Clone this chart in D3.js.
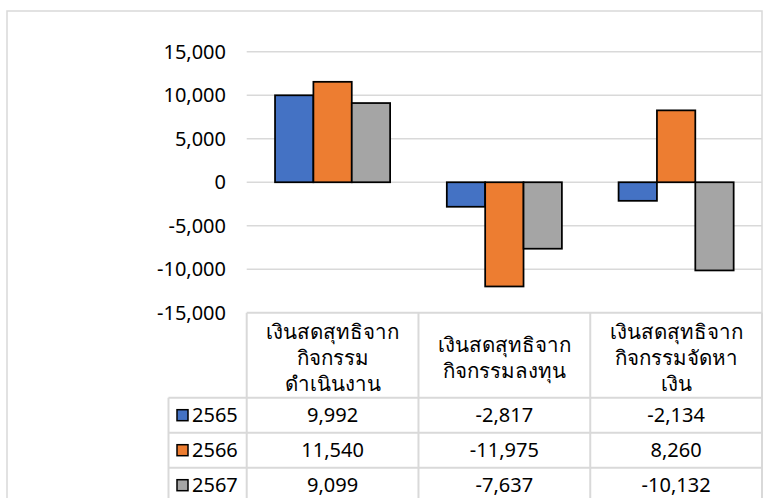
<!DOCTYPE html>
<html>
<head>
<meta charset="utf-8">
<script src="https://cdn.jsdelivr.net/npm/d3@7"></script>
<style>
  body { margin: 0; background: #fff; }
  svg text { font-family: Tahoma, "Noto Sans", "DejaVu Sans", sans-serif; fill: #000; }
</style>
</head>
<body>
<div id="chart"></div>
<script>
// data
const categories = ["operating", "investing", "financing"];
const categoryLabels = [
    ["เงินสดสุทธิจาก", "กิจกรรม", "ดำเนินงาน"],
    ["เงินสดสุทธิจาก", "กิจกรรมลงทุน"],
    ["เงินสดสุทธิจาก", "กิจกรรมจัดหา", "เงิน"]
];
const years = ["2565", "2566", "2567"];
const values2565 = [9992, -2817, -2134];
const values2566 = [11540, -11975, 8260];
const values2567 = [9099, -7637, -10132];
const yTicks = [-15000, -10000, -5000, 0, 5000, 10000, 15000];

const seriesValues = [values2565, values2566, values2567];
const colors = ["#4472C4", "#ED7D31", "#A5A5A5"];

const width = 767, height = 498;
const plot = { left: 246.7, right: 762, top: 51.7, bottom: 312.8 };
const rowH = 35;
const headerBottom = 397.7;
const legendLeft = 168.5;
const gridColor = "#D9D9D9";

// plain hyphen for negatives, like the original
const fmt = d3.formatLocale({ decimal: ".", thousands: ",", grouping: [3], currency: ["", ""], minus: "-" }).format(",");

const svg = d3.select("#chart")
    .append("svg")
    .attr("width", width)
    .attr("height", height);

// outer chart border
svg.append("rect")
    .attr("x", 7).attr("y", 11)
    .attr("width", 755).attr("height", 520)
    .attr("fill", "none")
    .attr("stroke", gridColor)
    .attr("stroke-width", 1.5);

const yScale = d3.scaleLinear()
    .domain([-15000, 15000])
    .range([plot.bottom, plot.top]);

const xScale = d3.scaleBand()
    .domain(categories)
    .range([plot.left, plot.right])
    .padding(0);

// bars take about 2/3 of each column
const xInner = d3.scaleBand()
    .domain(years)
    .range([xScale.bandwidth() * 0.165, xScale.bandwidth() * 0.835])
    .padding(0);

// gridlines
svg.append("g")
    .selectAll("line")
    .data(yTicks.filter(d => d !== -15000))
    .join("line")
    .attr("x1", plot.left)
    .attr("x2", plot.right)
    .attr("y1", d => yScale(d))
    .attr("y2", d => yScale(d))
    .attr("stroke", gridColor)
    .attr("stroke-width", 1.5);

// y tick labels
svg.append("g")
    .selectAll("text")
    .data(yTicks)
    .join("text")
    .attr("x", 226)
    .attr("y", d => yScale(d))
    .attr("dy", "0.35em")
    .attr("text-anchor", "end")
    .attr("font-size", 20)
    .text(d => fmt(d));

// bars
const groups = svg.append("g")
    .selectAll("g")
    .data(categories)
    .join("g")
    .attr("transform", d => `translate(${xScale(d)},0)`);

groups.selectAll("rect")
    .data((c, i) => years.map((y, s) => ({ year: y, value: seriesValues[s][i], s })))
    .join("rect")
    .attr("x", d => xInner(d.year))
    .attr("width", xInner.bandwidth())
    .attr("y", d => yScale(Math.max(0, d.value)))
    .attr("height", d => Math.abs(yScale(d.value) - yScale(0)))
    .attr("fill", d => colors[d.s])
    .attr("stroke", "#000")
    .attr("stroke-width", 1.75);

// data table
const table = svg.append("g");
const rowTop = i => headerBottom + i * rowH;
const tableBottom = height + 10;

// horizontal lines
table.append("line")
    .attr("x1", plot.left).attr("x2", plot.right)
    .attr("y1", plot.bottom).attr("y2", plot.bottom)
    .attr("stroke", gridColor).attr("stroke-width", 2);
years.forEach((y, i) => {
    table.append("line")
        .attr("x1", legendLeft).attr("x2", plot.right)
        .attr("y1", rowTop(i)).attr("y2", rowTop(i))
        .attr("stroke", gridColor).attr("stroke-width", 2);
});

// vertical lines
categories.forEach(c => {
    table.append("line")
        .attr("x1", xScale(c)).attr("x2", xScale(c))
        .attr("y1", plot.bottom).attr("y2", tableBottom)
        .attr("stroke", gridColor).attr("stroke-width", 2);
});
table.append("line")
    .attr("x1", plot.right).attr("x2", plot.right)
    .attr("y1", plot.bottom).attr("y2", tableBottom)
    .attr("stroke", gridColor).attr("stroke-width", 2);
table.append("line")
    .attr("x1", legendLeft).attr("x2", legendLeft)
    .attr("y1", headerBottom).attr("y2", tableBottom)
    .attr("stroke", gridColor).attr("stroke-width", 2);

// header labels
const headerMid = (plot.bottom + headerBottom) / 2 + 3;
categories.forEach((c, i) => {
    const lines = categoryLabels[i];
    lines.forEach((t, k) => {
        table.append("text")
            .attr("x", xScale(c) + xScale.bandwidth() / 2)
            .attr("y", headerMid + (k - (lines.length - 1) / 2) * 26)
            .attr("dy", "0.35em")
            .attr("text-anchor", "middle")
            .attr("font-size", 20.5)
            .text(t);
    });
});

// rows
years.forEach((y, s) => {
    const cy = rowTop(s) + rowH / 2;
    table.append("rect")
        .attr("x", 177).attr("y", cy - 5.5)
        .attr("width", 11).attr("height", 11)
        .attr("fill", colors[s])
        .attr("stroke", "#000")
        .attr("stroke-width", 1.5);
    table.append("text")
        .attr("x", 192).attr("y", cy)
        .attr("dy", "0.35em")
        .attr("font-size", 20)
        .text(y);
    categories.forEach((c, i) => {
        table.append("text")
            .attr("x", xScale(c) + xScale.bandwidth() / 2)
            .attr("y", cy)
            .attr("dy", "0.35em")
            .attr("text-anchor", "middle")
            .attr("font-size", 20)
            .text(fmt(seriesValues[s][i]));
    });
});
</script>
</body>
</html>
